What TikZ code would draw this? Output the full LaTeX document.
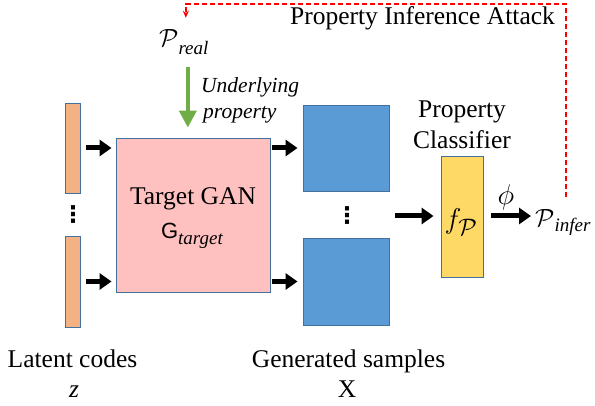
\documentclass[tikz,border=0pt]{standalone}
\usepackage{fix-cm}
\usepackage{fontspec}
\setmainfont{Liberation Serif}
\newfontfamily\tnr{Liberation Serif}
\newfontfamily\gsans{Liberation Sans}
\newfontfamily\dejavu{DejaVu Sans}
\usetikzlibrary{arrows.meta}
\definecolor{boxblue}{HTML}{41719C}
\definecolor{latentfill}{HTML}{F4B183}
\definecolor{ganfill}{HTML}{FFC0C0}
\definecolor{samplefill}{HTML}{5B9BD5}
\definecolor{clsfill}{HTML}{FFD966}
\definecolor{propgreen}{HTML}{70AD47}
\definecolor{attackred}{HTML}{FF0000}
\newcommand{\mysub}[2][6pt]{\raisebox{-#1}{\fontsize{19}{22}\selectfont\tnr\itshape #2}}
\begin{document}
\begin{tikzpicture}[x=1pt,y=-1pt,
  boxline/.style={draw=boxblue, line width=0.9pt, inner sep=0pt},
  latent/.style={boxline, fill=latentfill, minimum width=15pt, minimum height=90pt},
  ganbox/.style={boxline, fill=ganfill, minimum width=154pt, minimum height=154pt},
  samplebox/.style={boxline, fill=samplefill, minimum width=86pt, minimum height=86pt},
  clsbox/.style={boxline, fill=clsfill, minimum width=42pt, minimum height=121pt},
  lbl/.style={inner sep=0pt, font=\fontsize{25.5}{30}\selectfont\tnr},
  mth/.style={inner sep=0pt, font=\fontsize{24.88}{30}\selectfont\tnr},
  dotlbl/.style={inner sep=0pt, font=\fontsize{23}{26}\selectfont\dejavu\bfseries},
  itlbl/.style={inner sep=0pt, font=\fontsize{21.5}{26}\selectfont\tnr\itshape},
  blk/.style={draw=black, line width=5pt, -{Triangle[length=12pt,width=16pt]}},
  greenarrow/.style={draw=propgreen, line width=4pt, -{Triangle[length=17pt,width=17pt]}},
  attack/.style={draw=attackred, line width=1.4pt, dash pattern=on 5pt off 3pt, -{Stealth[length=7pt,width=6pt]}}
]
\useasboundingbox (0,0) rectangle (595,406);

% latent codes
\node[latent] (lat1) at (72.5,148) {};
\node[latent, minimum height=91pt] (lat2) at (72.5,281.5) {};
\node[dotlbl] (ldots) at (73,215) {⋮};

% target GAN
\node[ganbox] (gan) at (193,215) {};
\node[lbl, anchor=base] (gant) at (193,205) {Target GAN};
\node[inner sep=0pt, anchor=base] (gang) at (192,239) {\fontsize{22}{24}\selectfont\gsans G\mysub[6pt]{target}};

% generated samples
\node[samplebox] (s1) at (346,148) {};
\node[samplebox, minimum height=87pt] (s2) at (346,281.5) {};
\node[dotlbl] (sdots) at (347,216) {⋮};

% classifier
\node[clsbox] (cls) at (462,216.5) {};
\node[lbl, anchor=base] (clst1) at (462,118) {Property};
\node[lbl, anchor=base] (clst2) at (462,149) {Classifier};
\node[mth, scale=1.15] (fp) at (461,222) {$f_{\mathcal{P}}$};

% outputs
\node[mth, anchor=base west] (pinf) at (535,227) {$\mathcal{P}$\mysub[5pt]{infer}};
\node[mth, anchor=base west] (preal) at (159,47) {$\mathcal{P}$\mysub[8pt]{real}};
\node[mth, scale=1.15] (phi) at (506,197) {$\phi$};

% labels
\node[lbl, anchor=base] (attlbl) at (422.5,25) {Property Inference Attack};
\node[itlbl, anchor=base west] (und1) at (201,93) {Underlying};
\node[itlbl, anchor=base west] (und2) at (203,119) {property};
\node[lbl, anchor=base] (latlbl) at (72.5,367) {Latent codes};
\node[lbl, anchor=base] (zlbl) at (74,397) {\itshape z};
\node[lbl, anchor=base] (genlbl) at (348.5,367) {Generated samples};
\node[lbl, anchor=base] (xlbl) at (347,397) {X};

% connectors
\coordinate (cin) at (395,216);
\coordinate (top) at (0,4);
\draw[blk, shorten <=6pt, shorten >=4pt] (lat1.east) -- (lat1.east -| gan.west);
\draw[blk, shorten <=6pt, shorten >=4pt] (lat2.east) -- (lat2.east -| gan.west);
\draw[blk, shorten <=2pt, shorten >=5pt] (gan.east |- s1.west) -- (s1.west);
\draw[blk, shorten <=2pt, shorten >=5pt] (gan.east |- s2.west) -- (s2.west);
\draw[blk, shorten >=7pt] (cin) -- (cin -| cls.west);
\draw[blk, shorten <=8pt, shorten >=4pt] (cls.east |- cin) -- (cin -| pinf.west);
\draw[greenarrow, shorten <=12pt, shorten >=10pt] ([xshift=4pt]preal.south) -- ([xshift=4pt]preal.south |- gan.north);
\draw[attack, shorten <=13pt, shorten >=12pt] ([xshift=3pt]pinf.north) -- ([xshift=3pt]pinf.north |- top) -| ([xshift=2pt]preal.north);
\end{tikzpicture}
\end{document}
